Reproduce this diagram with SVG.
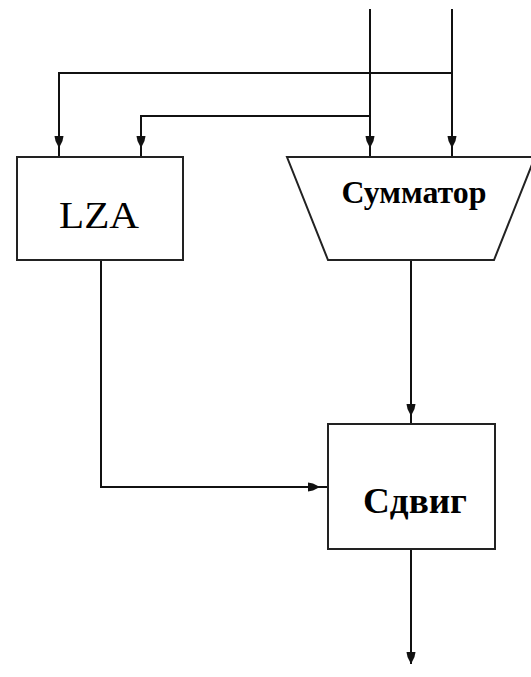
<svg xmlns="http://www.w3.org/2000/svg" width="531" height="677" viewBox="0 0 531 677">
<style>
.ln{fill:none;stroke:#111;stroke-width:2}
.bx{fill:#fff;stroke:#222;stroke-width:2}
.t{font-family:"Liberation Serif","Times New Roman",serif;fill:#000;text-anchor:middle}
</style>
<defs>
<marker id="ah" viewBox="0 0 12 10" refX="12" refY="5" markerWidth="12" markerHeight="10" orient="auto" markerUnits="userSpaceOnUse">
<path d="M0,0.5 L5,1.5 L12,5 L5,8.5 L0,9.5 Z" fill="#111"/>
</marker>
</defs>
<rect width="531" height="677" fill="#fff"/>
<g id="connectors">
<path class="ln" d="M370,9 V148" marker-end="url(#ah)"/>
<path class="ln" d="M452,9 V148" marker-end="url(#ah)"/>
<path class="ln" d="M452,73 H59 V148" marker-end="url(#ah)"/>
<path class="ln" d="M370,116 H141 V148" marker-end="url(#ah)"/>
<path class="ln" d="M370,146 V157 M452,146 V157 M59,146 V157 M141,146 V157"/>
<path class="ln" d="M411,260 V416" marker-end="url(#ah)"/>
<path class="ln" d="M411,414 V424"/>
<path class="ln" d="M101,260 V487 H320" marker-end="url(#ah)"/>
<path class="ln" d="M318,487 H328"/>
<path class="ln" d="M411,549 V664" marker-end="url(#ah)"/>
</g>
<g id="lza">
<rect class="bx" x="17" y="157" width="166" height="103"/>
<text class="t" x="99" y="228" font-size="37" textLength="80" lengthAdjust="spacingAndGlyphs">LZA</text>
</g>
<g id="summator">
<polygon class="bx" points="287,157 535,157 494,260 328,260"/>
<text class="t" x="414" y="203" font-size="32" font-weight="bold" textLength="145" lengthAdjust="spacingAndGlyphs">Сумматор</text>
</g>
<g id="shift">
<rect class="bx" x="328" y="424" width="167" height="125"/>
<text class="t" x="415" y="513" font-size="36" font-weight="bold" textLength="104" lengthAdjust="spacingAndGlyphs">Сдвиг</text>
</g>
</svg>
